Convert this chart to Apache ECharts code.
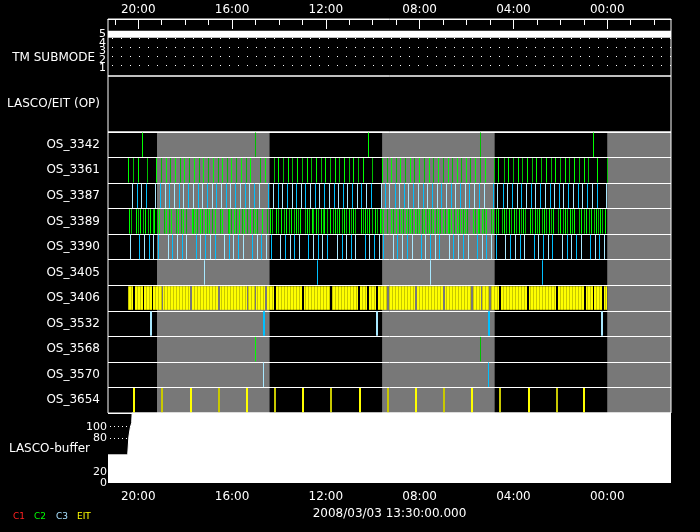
<!DOCTYPE html>
<html>
<head>
<meta charset="utf-8">
<script src="https://cdn.jsdelivr.net/npm/echarts@6/dist/echarts.min.js"></script>
<style>
html,body{margin:0;padding:0;background:#000;}
#c{width:700px;height:532px;}
</style>
</head>
<body>
<div id="c"></div>
<script>
// ---------------- data (time in clock hours, axis runs backwards) ----------------
const timeMin = -2.72;
const timeMax = 21.29;
const hourTickLabels = [20, 16, 12, 8, 4, 0];
const hourMinorTicks = [-2, -1, 0, 1, 2, 3, 4, 5, 6, 7, 8, 9, 10, 11, 12, 13, 14, 15, 16, 17, 18, 19, 20, 21];

const tmSubmodeLevels = [1, 2, 3, 4, 5];
const tmSubmodeTime = [21.29, -2.72];
const tmSubmodeValue = [5, 5];
const tmGridLevels = [1.31, 2.41, 3.51, 4.55];

const opLabel = ['LASCO/EIT (OP)'];
const rowNames = ['OS_3342', 'OS_3361', 'OS_3387', 'OS_3389', 'OS_3390', 'OS_3405',
                  'OS_3406', 'OS_3532', 'OS_3568', 'OS_3570', 'OS_3654'];

const shadeStart = [19.2, 9.6, 0.0];
const shadeEnd = [14.4, 4.8, -4.8];

const os3342 = [19.83, 15.01, 10.19, 5.42, 0.59];
const os3361 = [20.43, 20.21, 20.00, 19.62, 19.23, 19.02, 18.81, 18.64, 18.42, 18.21, 18.04, 17.83, 17.61, 17.40, 17.23, 17.02, 16.80, 16.59, 16.42, 16.21, 16.03, 15.82, 15.61, 15.39, 15.22, 14.80, 14.59, 14.20, 14.03, 13.82, 13.60, 13.43, 13.22, 13.01, 12.79, 12.61, 12.41, 12.20, 12.01, 11.81, 11.60, 11.41, 11.20, 11.00, 10.80, 10.60, 10.41, 10.02, 9.60, 9.39, 9.21, 9.00, 8.81, 8.60, 8.40, 8.20, 8.00, 7.79, 7.59, 7.39, 7.19, 6.99, 6.79, 6.59, 6.40, 6.21, 6.01, 5.81, 5.61, 5.42, 5.20, 4.82, 4.62, 4.39, 4.21, 4.01, 3.80, 3.61, 3.41, 3.20, 3.01, 2.80, 2.59, 2.39, 2.19, 1.99, 1.79, 1.59, 1.39, 1.19, 0.99, 0.79, 0.41, 0.00];
const os3387 = [20.26, 20.04, 19.87, 19.66, 19.28, 19.06, 18.85, 18.68, 18.47, 18.25, 18.08, 17.87, 17.66, 17.44, 17.27, 17.06, 16.85, 16.67, 16.46, 16.25, 16.08, 15.86, 15.65, 15.44, 15.27, 15.05, 14.84, 14.46, 14.24, 14.03, 13.86, 13.65, 13.43, 13.26, 13.05, 12.85, 12.65, 12.45, 12.25, 12.05, 11.86, 11.65, 11.45, 11.26, 11.06, 10.86, 10.66, 10.46, 10.26, 10.07, 9.64, 9.47, 9.27, 9.05, 8.85, 8.66, 8.46, 8.26, 8.06, 7.85, 7.65, 7.45, 7.25, 7.05, 6.85, 6.64, 6.45, 6.25, 6.06, 5.86, 5.66, 5.46, 5.25, 4.86, 4.66, 4.44, 4.25, 4.05, 3.84, 3.65, 3.44, 3.24, 3.05, 2.84, 2.65, 2.43, 2.24, 2.05, 1.85, 1.65, 1.43, 1.24, 1.05, 0.84, 0.64, 0.43, 0.04];
const os3389 = [20.38, 20.30, 20.09, 20.00, 19.92, 19.79, 19.70, 19.57, 19.49, 19.36, 19.32, 19.19, 19.10, 18.89, 18.81, 18.68, 18.59, 18.38, 18.29, 18.17, 18.08, 17.95, 17.70, 17.66, 17.57, 17.49, 17.36, 17.27, 17.14, 17.06, 16.97, 16.85, 16.72, 16.50, 16.42, 16.16, 16.12, 16.03, 15.91, 15.82, 15.69, 15.57, 15.48, 15.35, 15.22, 15.10, 15.01, 14.93, 14.71, 14.50, 14.37, 14.29, 14.12, 14.03, 13.90, 13.78, 13.69, 13.56, 13.48, 13.35, 13.26, 13.18, 13.08, 12.88, 12.79, 12.71, 12.59, 12.51, 12.39, 12.31, 12.20, 12.11, 12.05, 11.91, 11.80, 11.68, 11.57, 11.51, 11.40, 11.31, 11.20, 11.11, 11.00, 10.92, 10.83, 10.75, 10.49, 10.41, 10.29, 10.21, 10.12, 10.01, 9.89, 9.81, 9.69, 9.61, 9.52, 9.38, 9.18, 9.10, 8.98, 8.87, 8.79, 8.67, 8.58, 8.47, 8.38, 8.30, 8.19, 8.07, 7.99, 7.87, 7.79, 7.68, 7.59, 7.51, 7.39, 7.28, 7.19, 7.11, 6.99, 6.91, 6.79, 6.71, 6.62, 6.51, 6.40, 6.31, 6.23, 6.14, 6.03, 5.94, 5.71, 5.63, 5.51, 5.43, 5.31, 5.23, 5.14, 4.92, 4.83, 4.72, 4.63, 4.48, 4.36, 4.29, 4.18, 4.08, 3.97, 3.88, 3.75, 3.67, 3.57, 3.50, 3.28, 3.17, 3.07, 2.99, 2.87, 2.77, 2.69, 2.57, 2.47, 2.37, 2.29, 2.07, 1.98, 1.88, 1.76, 1.69, 1.58, 1.48, 1.38, 1.17, 1.08, 0.98, 0.88, 0.77, 0.67, 0.56, 0.47, 0.38, 0.30, 0.20, 0.09];
const os3390 = [20.34, 19.96, 19.75, 19.53, 19.36, 19.15, 18.72, 18.55, 18.34, 18.12, 17.95, 17.53, 17.36, 17.14, 16.93, 16.72, 16.33, 16.12, 15.95, 15.74, 15.52, 15.14, 14.93, 14.76, 14.54, 14.33, 13.95, 13.73, 13.52, 13.35, 13.13, 12.75, 12.54, 12.32, 12.14, 11.94, 11.51, 11.31, 11.11, 10.90, 10.72, 10.32, 10.12, 9.92, 9.72, 9.52, 9.13, 8.93, 8.72, 8.53, 8.32, 7.93, 7.73, 7.55, 7.34, 7.14, 6.74, 6.54, 6.34, 6.14, 5.93, 5.54, 5.33, 5.14, 4.93, 4.73, 4.35, 4.14, 3.93, 3.71, 3.54, 3.11, 2.93, 2.73, 2.52, 2.35, 1.92, 1.71, 1.52, 1.32, 1.11, 0.73, 0.51, 0.32, 0.13];
const os3405 = [17.19, 12.37, 7.55, 2.77];
const os3406Start = [20.44, 20.14, 19.76, 19.37, 18.93, 17.71, 16.52, 15.31, 14.98, 14.52, 14.13, 12.93, 11.74, 10.55, 10.16, 9.78, 9.32, 8.11, 6.92, 5.74, 5.34, 4.97, 4.53, 3.34, 2.12, 0.92, 0.57, 0.14];
const os3406End   = [20.24, 19.81, 19.43, 19.00, 17.80, 16.60, 15.38, 15.02, 14.60, 14.21, 13.02, 11.83, 10.62, 10.23, 9.86, 9.41, 8.20, 7.02, 5.81, 5.39, 5.04, 4.60, 3.40, 2.20, 1.01, 0.62, 0.21, 0.03];
const os3532 = [19.45, 14.64, 9.82, 5.03, 0.22];
const os3568 = [15.01, 5.42];
const os3570 = [14.67, 5.08];
const os3654 = [20.20, 19.00, 17.77, 16.56, 15.38, 14.18, 12.99, 11.80, 10.56, 9.35, 8.16, 6.98, 5.78, 4.59, 3.35, 2.16, 0.97];

const bufferTime = [21.29, 20.45, 20.40, 20.34, 20.28, 20.26, -2.72];
const bufferPct = [50, 50, 82, 98, 107, 125, 125];
const bufferTickLabels = [0, 20, 80, 100];
const bufferGridLevels = [20, 80, 100];

const legendNames = ['C1', 'C2', 'C3', 'EIT'];
const dateLabel = '2008/03/03 13:30:00.000';

// ---------------- styling / build ----------------
const FONT = 'DejaVu Sans';
const WHITE = '#ffffff';
const palettes = [
  ['#ff2020', '#ff2020'],   // C1
  ['#00ff00', '#00c000'],   // C2
  ['#a8e8ff', '#00c0ff'],   // C3
  ['#ffff00', '#c8c800']    // EIT
];
const legendColors = ['#ff2020', '#00ff00', '#a8e0ff', '#ffff00'];

const eventRows = [
  { row: 0, times: os3342, inst: 1, width: 1 },
  { row: 1, times: os3361, inst: 1, width: 1 },
  { row: 2, times: os3387, inst: 2, width: 1 },
  { row: 3, times: os3389, inst: 1, width: 1 },
  { row: 4, times: os3390, inst: 2, width: 1 },
  { row: 5, times: os3405, inst: 2, width: 1 },
  { row: 7, times: os3532, inst: 2, width: 2 },
  { row: 8, times: os3568, inst: 1, width: 1 },
  { row: 9, times: os3570, inst: 2, width: 1 },
  { row: 10, times: os3654, inst: 3, width: 2 }
];
const eventData = [];
eventRows.forEach(r => r.times.forEach((t, i) => {
  eventData.push([t, r.row, r.inst * 2 + (i % 2), r.width]);
}));
const segData = os3406Start.map((s, i) => [s, os3406End[i], 6]);
const shadeData = shadeStart.map((s, i) => [s, shadeEnd[i], 0]);
const tmData = tmSubmodeTime.map((t, i) => [t, tmSubmodeValue[i]]);
const bufferData = bufferTime.map((t, i) => [t, bufferPct[i]]);
const tmOddLevels = tmSubmodeLevels.filter(v => v % 2 === 1);
const tmEvenLevels = tmSubmodeLevels.filter(v => v % 2 === 0);

// stripe pattern for the dense EIT sequence
const pc = document.createElement('canvas');
pc.width = 3; pc.height = 4;
const pctx = pc.getContext('2d');
pctx.fillStyle = '#ffff00'; pctx.fillRect(0, 0, 3, 4);
pctx.fillStyle = '#c8c800'; pctx.fillRect(2, 0, 1, 4);
const stripe = { image: pc, repeat: 'repeat' };

const fmtHour = v => {
  const h = ((Math.round(v) % 24) + 24) % 24;
  return (h < 10 ? '0' : '') + h + ':00';
};

function renderShade(params, api) {
  const a = api.coord([api.value(0), 0]);
  const b = api.coord([api.value(1), 0]);
  const cs = params.coordSys;
  const rect = echarts.graphic.clipRectByRect(
    { x: Math.min(a[0], b[0]), y: cs.y, width: Math.abs(b[0] - a[0]), height: cs.height },
    { x: cs.x, y: cs.y, width: cs.width, height: cs.height });
  if (!rect) return null;
  return { type: 'rect', silent: true, shape: rect, style: { fill: '#787878' } };
}
function renderEvent(params, api) {
  const c = api.coord([api.value(0), api.value(1)]);
  const h = api.size([0, 1])[1];
  const w = api.value(3);
  const pal = palettes[Math.floor(api.value(2) / 2)];
  const col = pal[api.value(2) % 2];
  const x = (w % 2 === 1) ? Math.floor(c[0]) + 0.5 : Math.round(c[0]);
  return {
    type: 'line', silent: true,
    shape: { x1: x, y1: c[1] - h / 2 + 0.5, x2: x, y2: c[1] + h / 2 - 0.5 },
    style: { stroke: col, lineWidth: w }
  };
}
function renderSeg(params, api) {
  const a = api.coord([api.value(0), api.value(2)]);
  const b = api.coord([api.value(1), api.value(2)]);
  const h = api.size([0, 1])[1];
  const x0 = Math.round(Math.min(a[0], b[0]));
  const x1 = Math.round(Math.max(a[0], b[0]));
  return {
    type: 'rect', silent: true,
    shape: { x: x0, y: a[1] - h / 2 + 1, width: Math.max(1, x1 - x0), height: h - 2 },
    style: { fill: stripe }
  };
}

const gridBase = { show: true, borderColor: WHITE, borderWidth: 1, backgroundColor: 'transparent', containLabel: false, outerBoundsMode: 'none' };
const grids = [
  { left: 108, top: 19, width: 563, height: 57 },
  { left: 108, top: 76, width: 563, height: 56 },
  { left: 108, top: 132, width: 563, height: 281 },
  { left: 108, top: 413, width: 563, height: 70, show: false }
].map(g => Object.assign({}, gridBase, g));

const xBase = { type: 'value', min: timeMin, max: timeMax, inverse: true, splitLine: { show: false } };
const labelStyle = { color: WHITE, fontFamily: FONT, fontSize: 12 };
const tmAxisBase = {
  type: 'value', gridIndex: 0, min: 0.1, max: 6.8, position: 'left', offset: 0,
  axisLine: { show: false }, axisTick: { show: false }, splitLine: { show: false }
};
const tmLabelBase = { color: WHITE, fontFamily: FONT, fontSize: 11, margin: 2, showMinLabel: true, showMaxLabel: true, hideOverlap: false };

const chart = echarts.init(document.getElementById('c'), null, { renderer: 'canvas', width: 700, height: 532 });
chart.setOption({
  animation: false,
  backgroundColor: '#000000',
  grid: grids,
  xAxis: [
    Object.assign({}, xBase, {
      gridIndex: 0, position: 'top',
      axisLine: { show: true, lineStyle: { color: WHITE, width: 1 } },
      axisTick: { show: true, inside: true, length: 10, customValues: hourTickLabels, lineStyle: { color: WHITE, width: 1 } },
      axisLabel: Object.assign({ show: true, customValues: hourTickLabels, formatter: fmtHour, margin: 3, showMinLabel: true, showMaxLabel: true }, labelStyle)
    }),
    Object.assign({}, xBase, {
      gridIndex: 0, position: 'top',
      axisLine: { show: false },
      axisTick: { show: true, inside: true, length: 6, customValues: hourMinorTicks, lineStyle: { color: WHITE, width: 1 } },
      axisLabel: { show: false }
    }),
    Object.assign({}, xBase, { gridIndex: 1, show: false }),
    Object.assign({}, xBase, { gridIndex: 2, show: false }),
    Object.assign({}, xBase, {
      gridIndex: 3, position: 'bottom',
      axisLine: { show: false },
      axisTick: { show: false },
      axisLabel: Object.assign({ show: true, customValues: hourTickLabels, formatter: fmtHour, margin: 8, showMinLabel: true, showMaxLabel: true }, labelStyle)
    })
  ],
  yAxis: [
    Object.assign({}, tmAxisBase, { axisLabel: Object.assign({ customValues: tmOddLevels }, tmLabelBase) }),
    {
      type: 'category', gridIndex: 1, data: opLabel,
      axisLine: { show: false }, axisTick: { show: false }, splitLine: { show: false },
      axisLabel: Object.assign({ margin: 8 }, labelStyle)
    },
    {
      type: 'category', gridIndex: 2, data: rowNames, inverse: true,
      axisLine: { show: false }, axisTick: { show: false },
      splitLine: { show: true, interval: 0, lineStyle: { color: WHITE, width: 1 } },
      axisLabel: Object.assign({ margin: 8, interval: 0 }, labelStyle)
    },
    {
      type: 'value', gridIndex: 3, min: 0, max: 124.4,
      axisLine: { show: false }, axisTick: { show: false }, splitLine: { show: false },
      axisLabel: { customValues: bufferTickLabels, color: WHITE, fontFamily: FONT, fontSize: 11, margin: 1,
                   showMinLabel: true, showMaxLabel: true, hideOverlap: false }
    },
    Object.assign({}, tmAxisBase, { axisLabel: Object.assign({ customValues: tmEvenLevels }, tmLabelBase) })
  ],
  series: [
    {
      name: 'TM SUBMODE', type: 'line', xAxisIndex: 0, yAxisIndex: 0, data: tmData,
      symbol: 'none', silent: true,
      lineStyle: { color: WHITE, width: 7, cap: 'butt' },
      markLine: {
        silent: true, symbol: ['none', 'none'], label: { show: false }, animation: false,
        lineStyle: { color: WHITE, width: 1, type: [1, 8] },
        data: tmGridLevels.map(v => ({ yAxis: v }))
      }
    },
    {
      type: 'custom', xAxisIndex: 3, yAxisIndex: 2, z: -1, data: shadeData,
      encode: { x: [0, 1], y: 2 }, renderItem: renderShade, silent: true
    },
    {
      type: 'custom', xAxisIndex: 3, yAxisIndex: 2, data: eventData,
      encode: { x: 0, y: 1 }, renderItem: renderEvent, silent: true, progressive: 0
    },
    {
      type: 'custom', xAxisIndex: 3, yAxisIndex: 2, data: segData,
      encode: { x: [0, 1], y: 2 }, renderItem: renderSeg, silent: true
    },
    {
      name: 'LASCO-buffer', type: 'line', xAxisIndex: 4, yAxisIndex: 3, data: bufferData,
      symbol: 'none', silent: true,
      lineStyle: { color: WHITE, width: 1 },
      areaStyle: { color: WHITE, opacity: 1 },
      markLine: {
        silent: true, symbol: ['none', 'none'], label: { show: false }, animation: false,
        lineStyle: { color: WHITE, width: 1, type: [1, 3] },
        data: bufferGridLevels.map(v => ({ yAxis: v }))
      }
    }
  ],
  graphic: [
    { type: 'text', x: 95, y: 58, silent: true, style: { text: 'TM SUBMODE', fill: WHITE, font: '12px "DejaVu Sans"', align: 'right', verticalAlign: 'middle' } },
    { type: 'text', x: 90, y: 449, silent: true, style: { text: 'LASCO-buffer', fill: WHITE, font: '12px "DejaVu Sans"', align: 'right', verticalAlign: 'middle' } },
    { type: 'text', x: 389.5, y: 514, silent: true, style: { text: dateLabel, fill: WHITE, font: '12px "DejaVu Sans"', align: 'center', verticalAlign: 'middle' } },
    { type: 'text', x: 13, y: 517, silent: true, style: { text: legendNames[0], fill: legendColors[0], font: '9px "DejaVu Sans"', align: 'left', verticalAlign: 'middle' } },
    { type: 'text', x: 34, y: 517, silent: true, style: { text: legendNames[1], fill: legendColors[1], font: '9px "DejaVu Sans"', align: 'left', verticalAlign: 'middle' } },
    { type: 'text', x: 56, y: 517, silent: true, style: { text: legendNames[2], fill: legendColors[2], font: '9px "DejaVu Sans"', align: 'left', verticalAlign: 'middle' } },
    { type: 'text', x: 77, y: 517, silent: true, style: { text: legendNames[3], fill: legendColors[3], font: '9px "DejaVu Sans"', align: 'left', verticalAlign: 'middle' } }
  ]
});
</script>
</body>
</html>
